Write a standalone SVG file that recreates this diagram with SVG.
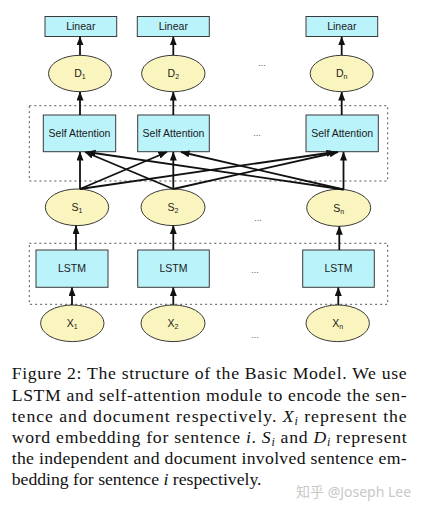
<svg xmlns="http://www.w3.org/2000/svg" width="421" height="513" viewBox="0 0 421 513">
<style>
.box{fill:#bbf3fb;stroke:#3a3a3a;stroke-width:1}
.ell{fill:#faf4be;stroke:#3a3a3a;stroke-width:1}
.lbl{font-family:"Liberation Sans",Arial,sans-serif;font-size:10.5px;fill:#1a1a1a;text-anchor:middle}
.sub{font-size:7px}
.dots{font-family:"Liberation Sans",Arial,sans-serif;font-size:9px;fill:#555;text-anchor:middle}
.group{fill:none;stroke:#555;stroke-width:1;stroke-dasharray:2 3}
.arr{stroke:#111;stroke-width:1.8;fill:none;marker-end:url(#ah)}
.cap{font-family:"Liberation Serif","Times New Roman",serif;font-size:17.7px;fill:#111}
.wm{font-family:"Noto Sans","Noto Sans CJK SC",sans-serif;font-size:14px;fill:#c8c8c8}
</style>
<defs>
<marker id="ah" markerUnits="userSpaceOnUse" markerWidth="9" markerHeight="8" refX="8.5" refY="3.5" orient="auto">
<path d="M0,0 L9,3.5 L0,7 z" fill="#111"/>
</marker>
</defs>
<rect width="421" height="513" fill="#fff"/>

<g id="groups">
<rect class="group" x="29.3" y="105.7" width="358.4" height="75.3"/>
<rect class="group" x="29.3" y="243.3" width="358.4" height="61"/>
</g>

<g id="linear1"><rect class="box" x="45" y="16.5" width="71.7" height="20"/><text class="lbl" x="80.8" y="30">Linear</text></g>
<g id="linear2"><rect class="box" x="137.3" y="16.5" width="72" height="20"/><text class="lbl" x="173.3" y="30">Linear</text></g>
<g id="linear3"><rect class="box" x="306" y="16.5" width="71.7" height="20"/><text class="lbl" x="341.8" y="30">Linear</text></g>

<g id="d1"><ellipse class="ell" cx="80" cy="73.5" rx="31.5" ry="18.2"/><text class="lbl" x="80" y="77">D<tspan class="sub" dy="2">1</tspan></text></g>
<g id="d2"><ellipse class="ell" cx="173.3" cy="73.5" rx="31.7" ry="18.2"/><text class="lbl" x="173.3" y="77">D<tspan class="sub" dy="2">2</tspan></text></g>
<g id="dn"><ellipse class="ell" cx="341.7" cy="73.5" rx="31.5" ry="18.2"/><text class="lbl" x="341.7" y="77">D<tspan class="sub" dy="2">n</tspan></text></g>
<text class="dots" x="262" y="66">...</text>

<g id="sa1"><rect class="box" x="43.3" y="115" width="72.4" height="36.7"/><text class="lbl" x="79.5" y="137">Self Attention</text></g>
<g id="sa2"><rect class="box" x="137.7" y="115" width="71.6" height="36.7"/><text class="lbl" x="173.5" y="137">Self Attention</text></g>
<g id="sa3"><rect class="box" x="306" y="115" width="72.3" height="36.7"/><text class="lbl" x="342.2" y="137">Self Attention</text></g>
<text class="dots" x="257" y="136">...</text>

<g id="s1"><ellipse class="ell" cx="77" cy="207.3" rx="31.7" ry="18.3"/><text class="lbl" x="77" y="211">S<tspan class="sub" dy="2">1</tspan></text></g>
<g id="s2"><ellipse class="ell" cx="173" cy="207.3" rx="32" ry="18.3"/><text class="lbl" x="173" y="211">S<tspan class="sub" dy="2">2</tspan></text></g>
<g id="sn"><ellipse class="ell" cx="338.7" cy="207.8" rx="32" ry="18.5"/><text class="lbl" x="338.7" y="211.5">S<tspan class="sub" dy="2">n</tspan></text></g>
<text class="dots" x="258" y="221">...</text>

<g id="lstm1"><rect class="box" x="36" y="250" width="72" height="37.3"/><text class="lbl" x="72" y="272">LSTM</text></g>
<g id="lstm2"><rect class="box" x="137.7" y="250" width="71.6" height="37.3"/><text class="lbl" x="173.5" y="272">LSTM</text></g>
<g id="lstm3"><rect class="box" x="302.7" y="250" width="71.6" height="37.3"/><text class="lbl" x="338.5" y="272">LSTM</text></g>
<text class="dots" x="255" y="273">...</text>

<g id="x1"><ellipse class="ell" cx="72.3" cy="323.3" rx="31.7" ry="18.3"/><text class="lbl" x="72.3" y="327">X<tspan class="sub" dy="2">1</tspan></text></g>
<g id="x2"><ellipse class="ell" cx="173" cy="323.3" rx="32" ry="18.3"/><text class="lbl" x="173" y="327">X<tspan class="sub" dy="2">2</tspan></text></g>
<g id="xn"><ellipse class="ell" cx="337.7" cy="323.3" rx="31.7" ry="18.3"/><text class="lbl" x="337.7" y="327">X<tspan class="sub" dy="2">n</tspan></text></g>
<text class="dots" x="255" y="338">...</text>

<g id="connectors">
<line class="arr" x1="80" y1="55.3" x2="80" y2="36.8"/>
<line class="arr" x1="173.3" y1="55.3" x2="173.3" y2="36.8"/>
<line class="arr" x1="341.7" y1="55.3" x2="341.7" y2="36.8"/>
<line class="arr" x1="80" y1="115" x2="80" y2="92"/>
<line class="arr" x1="173.3" y1="115" x2="173.3" y2="92"/>
<line class="arr" x1="341.7" y1="115" x2="341.7" y2="92"/>
<line class="arr" x1="80" y1="189" x2="80" y2="152"/>
<line class="arr" x1="80" y1="189" x2="167" y2="152"/>
<line class="arr" x1="80" y1="189" x2="335" y2="152"/>
<line class="arr" x1="173.3" y1="189" x2="85" y2="152"/>
<line class="arr" x1="173.3" y1="189" x2="173.3" y2="152"/>
<line class="arr" x1="173.3" y1="189" x2="338" y2="152"/>
<line class="arr" x1="343.5" y1="189.5" x2="87" y2="152"/>
<line class="arr" x1="343.5" y1="189.5" x2="181" y2="152"/>
<line class="arr" x1="343.5" y1="189.5" x2="343.5" y2="152"/>
<line class="arr" x1="76" y1="250" x2="76" y2="225.6"/>
<line class="arr" x1="173.3" y1="250" x2="173.3" y2="225.6"/>
<line class="arr" x1="339.3" y1="250" x2="339.3" y2="226.3"/>
<line class="arr" x1="72" y1="305" x2="72" y2="287.5"/>
<line class="arr" x1="173.3" y1="305" x2="173.3" y2="287.5"/>
<line class="arr" x1="338.3" y1="305" x2="338.3" y2="287.5"/>
</g>

<g id="caption">
<text class="cap" x="11.7" y="379" textLength="395" lengthAdjust="spacing">Figure 2: The structure of the Basic Model.  We use</text>
<text class="cap" x="11.7" y="401" textLength="395" lengthAdjust="spacing">LSTM and self-attention module to encode the sen-</text>
<text class="cap" x="11.7" y="421.7" textLength="395" lengthAdjust="spacing">tence and document respectively.  <tspan font-style="italic">X</tspan><tspan font-style="italic" font-size="12" dy="3">i</tspan><tspan dy="-3"> represent the</tspan></text>
<text class="cap" x="11.7" y="442.5" textLength="395" lengthAdjust="spacing">word embedding for sentence <tspan font-style="italic">i</tspan>.  <tspan font-style="italic">S</tspan><tspan font-style="italic" font-size="12" dy="3">i</tspan><tspan dy="-3"> and </tspan><tspan font-style="italic">D</tspan><tspan font-style="italic" font-size="12" dy="3">i</tspan><tspan dy="-3"> represent</tspan></text>
<text class="cap" x="11.7" y="463.5" textLength="395" lengthAdjust="spacing">the independent and document involved sentence em-</text>
<text class="cap" x="11.7" y="485">bedding for sentence <tspan font-style="italic">i</tspan> respectively.</text>
</g>

<text class="wm" x="296" y="497">知乎 @Joseph Lee</text>
</svg>
